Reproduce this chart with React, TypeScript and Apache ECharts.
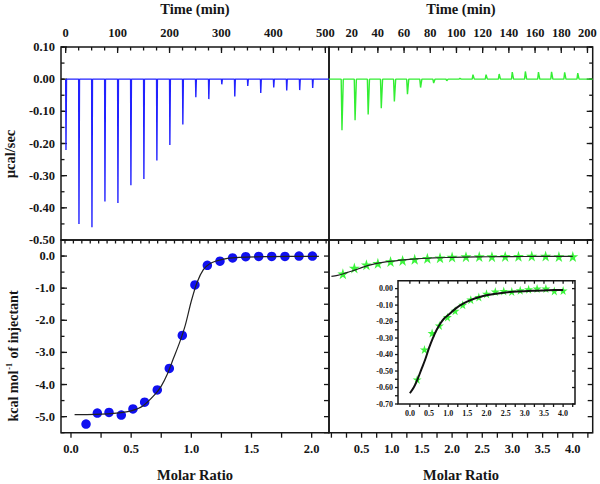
import React, { useEffect, useRef } from "react";
import * as echarts from "echarts";

// ---------- data ----------
// Top-left: raw ITC heat rate (blue), injection times (min) and peak heat rates (µcal/sec)
const TL_TIME = [0, 25, 50, 75, 100, 125, 150, 175, 200, 225, 250, 275, 300, 325, 350, 375, 400, 425, 450, 475];
const TL_PEAK = [-0.22, -0.45, -0.46, -0.38, -0.385, -0.33, -0.31, -0.253, -0.205, -0.141, -0.056, -0.062, -0.016, -0.054, -0.021, -0.043, -0.026, -0.035, -0.034, -0.027];
// Top-right: raw ITC heat rate (green)
const TR_TIME = [12, 22, 32, 42, 52, 62, 72, 82, 92, 102, 112, 122, 132, 142, 152, 162, 172, 182, 192];
const TR_PEAK = [-0.159, -0.128, -0.11, -0.09, -0.069, -0.047, -0.026, -0.012, -0.005, 0.003, 0.014, 0.014, 0.016, 0.022, 0.024, 0.022, 0.023, 0.021, 0.019];
// Bottom-left: integrated heats (blue circles) and fit
const BL_RATIO = [0.125, 0.219, 0.316, 0.418, 0.515, 0.612, 0.717, 0.817, 0.925, 1.03, 1.133, 1.238, 1.343, 1.452, 1.56, 1.668, 1.778, 1.895, 2.006];
const BL_HEAT = [-5.23, -4.89, -4.87, -4.95, -4.76, -4.55, -4.17, -3.5, -2.47, -0.9, -0.29, -0.16, -0.06, -0.02, -0.01, -0.01, -0.01, 0.0, 0.0];
const BL_FIT_X = [0.03, 0.2, 0.4, 0.5, 0.6, 0.7, 0.75, 0.8, 0.85, 0.9, 0.95, 1.0, 1.05, 1.1, 1.15, 1.2, 1.3, 1.4, 1.6, 1.8, 2.06];
const BL_FIT_Y = [-4.94, -4.93, -4.88, -4.82, -4.66, -4.3, -4.05, -3.68, -3.2, -2.72, -2.15, -1.4, -0.8, -0.42, -0.25, -0.16, -0.07, -0.04, -0.02, -0.01, -0.01];
// Bottom-right (and inset): integrated heats (green stars) and fit
const BR_RATIO = [0.19, 0.38, 0.58, 0.77, 0.98, 1.18, 1.38, 1.59, 1.8, 2.0, 2.23, 2.45, 2.66, 2.88, 3.1, 3.32, 3.55, 3.77, 4.0];
const BR_HEAT = [-0.551, -0.369, -0.27, -0.224, -0.173, -0.135, -0.098, -0.067, -0.051, -0.031, -0.018, -0.014, -0.018, -0.01, -0.004, 0.0, 0.0, -0.014, -0.012];
const BR_FIT_X = [0.0, 0.1, 0.2, 0.3, 0.4, 0.5, 0.6, 0.7, 0.8, 0.9, 1.0, 1.2, 1.4, 1.6, 1.8, 2.0, 2.4, 2.8, 3.2, 3.6, 4.0];
const BR_FIT_Y = [-0.635, -0.6, -0.55, -0.49, -0.43, -0.36, -0.3, -0.25, -0.21, -0.18, -0.16, -0.12, -0.09, -0.068, -0.052, -0.04, -0.026, -0.018, -0.013, -0.01, -0.008];

// tick labels
const TL_TIME_LABELS = [0, 100, 200, 300, 400, 500];
const TR_TIME_LABELS = [20, 40, 60, 80, 100, 120, 140, 160, 180, 200];
const RATE_LABELS = [0.1, 0.0, -0.1, -0.2, -0.3, -0.4, -0.5];
const KCAL_LABELS = [0.0, -1.0, -2.0, -3.0, -4.0, -5.0];
const BL_RATIO_LABELS = [0.0, 0.5, 1.0, 1.5, 2.0];
const BR_RATIO_LABELS = [0.5, 1.0, 1.5, 2.0, 2.5, 3.0, 3.5, 4.0];
const INSET_X_LABELS = [0.0, 0.5, 1.0, 1.5, 2.0, 2.5, 3.0, 3.5, 4.0];
const INSET_Y_LABELS = [0.0, -0.1, -0.2, -0.3, -0.4, -0.5, -0.6, -0.7];

const FONT = "'Liberation Serif', 'Times New Roman', serif";
const INK = "#161616";
const STAR = "path://M50,0 L61,35 L98,35 L68,57 L79,91 L50,70 L21,91 L32,57 L2,35 L39,35 Z";

// axis ranges
const TL_X = [-9, 507];
const TR_X = [2.7, 204];
const RATE_Y = [-0.5, 0.1];
const BL_X = [-0.083, 2.144];
const BR_X = [-0.04, 4.33];
const KCAL_Y = [-5.5, 0.5];
const IN_X = [-0.31, 4.31];
const IN_Y = [-0.7, 0.048];

const steps = (a: number, b: number, s: number) => {
  const out: number[] = [];
  for (let v = a; v <= b + 1e-9; v += s) out.push(Math.round(v * 1e6) / 1e6);
  return out;
};

const trace = (times: number[], peaks: number[], start: number, end: number) => {
  const pts: number[][] = [[start, 0]];
  times.forEach((t, i) => {
    pts.push([t, 0], [t + 0.6, peaks[i]], [t + 1.6, 0]);
  });
  pts.push([end, 0]);
  return pts;
};

const zip = (xs: number[], ys: number[]) => xs.map((x, i) => [x, ys[i]]);

const axis = (grid: number, pos: string, range: number[], labels?: number[], dec = 0, margin = 6, size = 12.5) => ({
  type: "value",
  gridIndex: grid,
  position: pos,
  min: range[0],
  max: range[1],
  axisLine: { show: false, onZero: false },
  splitLine: { show: false },
  axisTick: { show: false },
  axisLabel: labels
    ? {
        show: true,
        customValues: labels,
        formatter: (v: number) => (dec ? Number(v).toFixed(dec) : String(Math.round(v))),
        margin,
        fontSize: size,
        fontWeight: "bold",
        fontFamily: FONT,
        color: INK,
      }
    : { show: false },
});

// tick marks drawn through the axes' own scales (custom series)
const ticks = (
  axisIdx: number,
  orient: "x" | "y",
  values: number[],
  edge: number,
  dir: number,
  len: number,
  z = 3
) => ({
  type: "custom",
  xAxisIndex: axisIdx,
  yAxisIndex: axisIdx,
  clip: false,
  silent: true,
  z,
  data: values.map((v) => (orient === "x" ? [v, edge] : [edge, v])),
  renderItem: (_p: any, api: any) => {
    const pt = api.coord([api.value(0), api.value(1)]);
    const dx = orient === "y" ? dir * len : 0;
    const dy = orient === "x" ? dir * len : 0;
    return {
      type: "line",
      shape: { x1: pt[0], y1: pt[1], x2: pt[0] + dx, y2: pt[1] + dy },
      style: { stroke: INK, lineWidth: 1.3 },
    };
  },
});

export default function App() {
  const ref = useRef<HTMLDivElement>(null);

  useEffect(() => {
    if (!ref.current) return;
    const chart = echarts.init(ref.current, undefined, { renderer: "svg" });

    const xAxes = [
      axis(0, "top", TL_X, TL_TIME_LABELS, 0, 8),
      axis(1, "top", TR_X, TR_TIME_LABELS, 0, 8),
      axis(2, "bottom", BL_X, BL_RATIO_LABELS, 1, 10),
      axis(3, "bottom", BR_X, BR_RATIO_LABELS, 1, 10),
      axis(4, "bottom", IN_X, INSET_X_LABELS, 1, 5, 8),
    ];
    const yAxes = [
      axis(0, "left", RATE_Y, RATE_LABELS, 2, 6),
      axis(1, "right", RATE_Y),
      axis(2, "left", KCAL_Y, KCAL_LABELS, 1, 6),
      axis(3, "right", KCAL_Y),
      axis(4, "left", IN_Y, INSET_Y_LABELS, 2, 5, 8),
    ];

    const border = { show: true, borderColor: INK, borderWidth: 1.5, backgroundColor: "transparent" };

    const titleStyle = (text: string) => ({
      text,
      x: 0,
      y: 0,
      font: `bold 14.5px ${FONT}`,
      fill: INK,
      textAlign: "center",
      textVerticalAlign: "middle",
      align: "center",
      verticalAlign: "middle",
    });

    const tickSeries = [
      // top-left
      ticks(0, "x", TL_TIME_LABELS, RATE_Y[1], 1, 6),
      ticks(0, "x", steps(0, 500, 25), RATE_Y[1], 1, 3.5),
      ticks(0, "y", RATE_LABELS, TL_X[0], 1, 6),
      ticks(0, "y", steps(-0.5, 0.1, 0.05), TL_X[0], 1, 3.5),
      // top-right
      ticks(1, "x", TR_TIME_LABELS, RATE_Y[1], 1, 6),
      ticks(1, "x", steps(10, 200, 10), RATE_Y[1], 1, 3.5),
      ticks(1, "x", steps(10, 200, 10), RATE_Y[0], 1, 4),
      ticks(1, "y", RATE_LABELS, TR_X[1], -1, 6),
      ticks(1, "y", steps(-0.5, 0.1, 0.05), TR_X[1], -1, 3.5),
      // bottom-left
      ticks(2, "x", steps(0, 2.0, 0.25), KCAL_Y[0], 1, 5),
      ticks(2, "x", steps(-0.05, 2.14, 0.07), KCAL_Y[1], 1, 3.5),
      ticks(2, "y", KCAL_LABELS, BL_X[0], 1, 6),
      ticks(2, "y", steps(-5.5, 0.5, 0.5), BL_X[0], 1, 3.5),
      ticks(2, "y", steps(-5.5, 0.5, 0.5), BL_X[1], -1, 5),
      // bottom-right
      ticks(3, "x", steps(0, 4.25, 0.25), KCAL_Y[0], 1, 5),
      ticks(3, "y", steps(-5.5, 0.5, 0.5), BR_X[1], -1, 5),
      // inset
      ticks(4, "x", steps(0, 4.25, 0.25), IN_Y[0], 1, 3, 7),
      ticks(4, "x", steps(0, 4.25, 0.25), IN_Y[1], 1, 3, 7),
      ticks(4, "y", steps(-0.7, 0.0, 0.05), IN_X[0], -1, 3, 7),
      ticks(4, "y", steps(-0.7, 0.0, 0.1), IN_X[1], -1, 3, 7),
    ];

    chart.setOption({
      animation: false,
      backgroundColor: "#ffffff",
      grid: [
        { left: 61, top: 47, width: 268, height: 193, ...border },
        { left: 329, top: 47, width: 263.7, height: 193, ...border },
        { left: 61, top: 240, width: 268, height: 192.7, ...border },
        { left: 329, top: 240, width: 263.7, height: 192.7, ...border },
        { left: 398, top: 280.7, width: 177, height: 123.3, ...border, backgroundColor: "#ffffff", z: 3 },
      ],
      xAxis: xAxes,
      yAxis: yAxes,
      graphic: [
        { type: "text", x: 195, y: 9, style: titleStyle("Time (min)") },
        { type: "text", x: 461, y: 9, style: titleStyle("Time (min)") },
        { type: "text", x: 195, y: 475, style: titleStyle("Molar Ratio") },
        { type: "text", x: 461, y: 475, style: titleStyle("Molar Ratio") },
        {
          type: "text",
          x: 10,
          y: 154,
          rotation: Math.PI / 2,
          style: { ...titleStyle("µcal/sec"), font: `bold 14.5px ${FONT}` },
        },
        {
          type: "text",
          x: 13,
          y: 356,
          rotation: Math.PI / 2,
          style: {
            text: "{a|kcal mol}{s|-1}{a| of injectant}",
            x: 0,
            y: 0,
            fill: INK,
            textAlign: "center",
            textVerticalAlign: "middle",
            align: "center",
            verticalAlign: "middle",
            rich: {
              a: { font: `bold 14px ${FONT}`, fill: INK, color: INK },
              s: { font: `bold 8px ${FONT}`, fill: INK, color: INK, verticalAlign: "top", padding: [0, 1, 8, 1] },
            },
          },
        },
      ],
      series: [
        {
          type: "line",
          xAxisIndex: 0,
          yAxisIndex: 0,
          data: trace(TL_TIME, TL_PEAK, 0, TL_X[1]),
          symbol: "none",
          lineStyle: { color: "#2222ff", width: 1.4 },
        },
        {
          type: "line",
          xAxisIndex: 1,
          yAxisIndex: 1,
          data: trace(TR_TIME, TR_PEAK, TR_X[0], TR_X[1]),
          symbol: "none",
          lineStyle: { color: "#33ee33", width: 1.4 },
        },
        {
          type: "line",
          xAxisIndex: 2,
          yAxisIndex: 2,
          data: zip(BL_FIT_X, BL_FIT_Y),
          symbol: "none",
          smooth: 0.3,
          lineStyle: { color: "#222222", width: 1.2 },
        },
        {
          type: "scatter",
          xAxisIndex: 2,
          yAxisIndex: 2,
          data: zip(BL_RATIO, BL_HEAT),
          symbolSize: 9.5,
          itemStyle: { color: "#1010f0", opacity: 1 },
        },
        {
          type: "line",
          xAxisIndex: 3,
          yAxisIndex: 3,
          data: zip(BR_FIT_X, BR_FIT_Y),
          symbol: "none",
          smooth: 0.3,
          lineStyle: { color: "#222222", width: 1.2 },
        },
        {
          type: "scatter",
          xAxisIndex: 3,
          yAxisIndex: 3,
          data: zip(BR_RATIO, BR_HEAT),
          symbol: STAR,
          symbolSize: 11,
          itemStyle: { color: "#3cf53c", opacity: 1 },
        },
        {
          type: "line",
          xAxisIndex: 4,
          yAxisIndex: 4,
          data: zip(BR_FIT_X, BR_FIT_Y),
          symbol: "none",
          smooth: 0.3,
          z: 5,
          lineStyle: { color: "#111111", width: 2 },
        },
        {
          type: "scatter",
          xAxisIndex: 4,
          yAxisIndex: 4,
          data: zip(BR_RATIO, BR_HEAT),
          symbol: STAR,
          symbolSize: 9,
          z: 4,
          itemStyle: { color: "#3cf53c", opacity: 1 },
        },
        ...tickSeries,
      ],
    });

    return () => chart.dispose();
  }, []);

  return (
    <div
      ref={ref}
      style={{ position: "fixed", left: 0, top: 0, width: 600, height: 484, background: "#fff" }}
    />
  );
}
